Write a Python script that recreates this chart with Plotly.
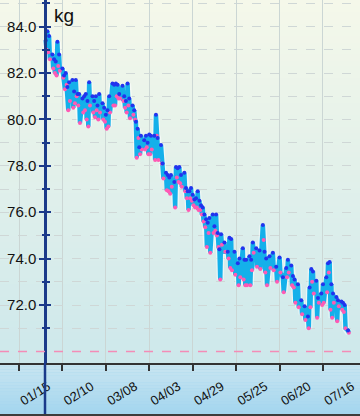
import pandas as pd
import plotly.graph_objects as go

# ---------------- data ----------------
start_date = "2023-01-31"
day = [0,1,2,4,5,6,7,8,10,11,12,13,14,16,17,18,19,20,22,23,24,25,26,28,29,30,31,32,34,
       35,36,37,38,40,41,42,43,44,46,47,48,49,50,52,53,54,55,56,57,59,60,61,62,63,65,66,
       67,69,70,72,73,74,75,77,78,79,80,81,83,84,85,86,87,88,89,90,91,92,93,94,95,96,97,
       98,100,101,102,103,104,105,107,109,110,111,113,115,116,118,119,120,122,123,124,126,128,130,131,
       132,134,136,138,140,142,144,145,147,148,149,151,153,155,157,
       158,159,160,162,163,165,166,168,169,170,171,172,174,175,177,178,179,181]
upper = [83.4,83.8,83.6,82.8,82.6,82.5,83.35,82.8,82.2,81.9,82.0,81.4,81.6,81.7,81.2,81.7,81.1,81.1,80.9,81.0,81.1,80.8,81.6,81.0,80.8,81.0,80.6,81.1,80.7,
         80.5,80.2,80.4,81.0,81.55,81.5,81.55,81.5,81.1,81.45,81.0,80.8,81.55,80.9,80.6,80.4,79.9,79.6,78.8,79.3,79.1,79.3,79.0,79.35,79.3,79.3,80.2,
         79.2,78.9,78.1,77.7,77.6,77.5,77.6,77.3,77.95,77.9,77.95,77.6,77.7,77.05,76.9,76.9,77.05,76.75,76.55,76.6,76.9,76.5,76.3,76.2,75.9,75.7,75.55,
         75.75,75.9,75.4,75.9,75.1,74.4,75.05,74.7,74.3,74.9,74.85,74.3,73.8,74.0,74.45,73.95,73.95,74.1,73.95,74.7,74.45,74.35,75.45,74.3,
         74.0,74.1,74.25,73.65,74.05,73.2,73.6,73.95,73.7,73.25,73.1,72.9,72.2,71.95,71.5,
         72.75,73.55,73.45,73.05,72.3,72.5,72.9,73.2,73.8,73.85,72.9,72.5,72.35,72.2,72.15,72.1,72.0,70.9]
lower = [83.0,82.9,82.6,82.2,82.0,81.9,82.3,82.1,81.8,81.3,81.5,80.4,80.8,80.5,80.7,81.0,80.6,79.85,80.3,80.4,80.0,79.7,80.6,80.3,80.1,80.4,80.0,80.3,80.0,
         79.9,79.6,79.7,80.3,80.6,80.6,81.0,80.9,80.9,80.8,80.5,80.3,80.6,80.05,80.2,80.0,78.35,79.2,78.5,78.7,78.7,78.8,78.5,78.5,78.7,78.25,79.3,
         78.25,78.1,77.45,76.95,76.9,76.8,77.1,76.2,77.5,77.3,77.25,77.1,76.9,76.6,76.1,76.6,76.5,76.3,76.2,76.2,76.1,76.1,75.9,75.6,75.35,74.5,75.1,
         74.25,75.1,75.2,75.0,74.5,73.1,74.6,74.3,74.0,73.6,73.5,73.3,72.85,73.2,73.1,72.85,72.85,72.85,73.5,74.25,73.65,73.55,74.8,73.4,
         72.85,73.6,73.5,73.0,73.4,72.55,73.2,73.4,72.85,72.75,72.1,71.9,71.6,71.35,71.0,
         71.9,73.0,72.5,71.45,72.1,72.0,72.1,72.55,73.4,71.8,71.45,72.1,71.3,71.95,71.8,71.7,71.0,70.8]
target_kg = 70.0
y_major = [72, 74, 76, 78, 80, 82, 84]
y_minor = [71, 73, 75, 77, 79, 81, 83, 85]
x_tick_start = "2022-12-20"
x_tick_days = 26
x_range = ["2023-01-03 15:00", "2023-08-07 04:00"]
y_range = [69.5, 85.15]
unit_label = "kg"

# ---------------- build ----------------
t_up = pd.Timestamp(start_date) + pd.to_timedelta(day, unit="D")
t_lo = t_up + pd.Timedelta(hours=12)
xs, ys = [], []
for a, b, c, d in zip(t_up, upper, t_lo, lower):
    xs += [a, c]
    ys += [b, d]

AXIS_BLUE = "#1b3a8a"
FONT = "Liberation Sans, Arial, sans-serif"

fig = go.Figure()
fig.add_trace(go.Scatter(x=xs, y=ys, mode="lines", line=dict(color="rgba(255,255,255,0.55)", width=7),
                         hoverinfo="skip", showlegend=False))
fig.add_trace(go.Scatter(x=xs, y=ys, mode="lines", line=dict(color="#14b0ea", width=4.5),
                         showlegend=False))
fig.add_trace(go.Scatter(x=t_lo, y=lower, mode="markers", yaxis="y2",
                         marker=dict(color="#ff5ab4", size=4), showlegend=False))
fig.add_trace(go.Scatter(x=t_up, y=upper, mode="markers", yaxis="y2",
                         marker=dict(color="#2233ee", size=4), showlegend=False))

def lerp(c1, c2, f):
    return "rgb(%d,%d,%d)" % tuple(round(c1[i] + (c2[i] - c1[i]) * f) for i in range(3))

shapes = []
N = 60
top_c, bot_c = (245, 248, 234), (205, 232, 235)
for i in range(N):
    shapes.append(dict(type="rect", xref="paper", yref="paper", x0=0, x1=1,
                       y0=i / N, y1=(i + 1) / N + 0.002, layer="below", line=dict(width=0),
                       fillcolor=lerp(bot_c, top_c, (i + 0.5) / N)))
plot_h = 363.0
strip_bot = -51 / plot_h
M = 16
s_top, s_bot = (202, 230, 240), (163, 213, 239)
for i in range(M):
    y0 = strip_bot * (i / M)
    y1 = strip_bot * ((i + 1) / M)
    shapes.append(dict(type="rect", xref="paper", yref="paper", x0=0, x1=1,
                       y0=y1, y1=y0, layer="below", line=dict(width=0),
                       fillcolor=lerp(s_top, s_bot, (i + 0.5) / M)))
shapes.append(dict(type="rect", xref="paper", yref="paper", x0=0, x1=1,
                   y0=-53 / plot_h, y1=strip_bot, layer="above", line=dict(width=0),
                   fillcolor="#3c3c3c"))
shapes.append(dict(type="line", xref="paper", yref="y", x0=0, x1=1, y0=target_kg, y1=target_kg,
                   line=dict(color="#f48cb6", width=1.5, dash="dash"), layer="above"))
shapes.append(dict(type="line", xref="paper", yref="paper", x0=0.125, x1=0.125,
                   y0=strip_bot, y1=0, line=dict(color=AXIS_BLUE, width=2.5), layer="above"))

yax_common = dict(range=y_range, anchor="free", position=0.125, automargin=False,
                  tickvals=y_major, ticks="outside", ticklen=5, tickwidth=2, tickcolor=AXIS_BLUE,
                  zeroline=False)

fig.update_layout(
    width=360, height=416,
    margin=dict(l=0, r=0, t=0, b=53, pad=0),
    paper_bgcolor="#a3d5ef",
    plot_bgcolor="rgba(0,0,0,0)",
    font=dict(family=FONT, color="#111111"),
    xaxis=dict(type="date", range=x_range, tick0=x_tick_start, dtick=x_tick_days * 86400000,
               tickformat="%m/%d", tickangle=-32, ticklabelshift=29, ticklabelstandoff=3,
               tickfont=dict(size=13, color="#111111", family=FONT),
               ticks="outside", ticklen=6, tickwidth=1.5, tickcolor="#333333",
               showgrid=True, gridcolor="#cbd6d4", gridwidth=1,
               showline=True, linecolor="#333333", linewidth=2, zeroline=False, automargin=False),
    yaxis=dict(**yax_common, side="left", tickformat=".1f",
               tickfont=dict(size=15, color="#111111", family=FONT),
               showline=True, linecolor=AXIS_BLUE, linewidth=2.5,
               showgrid=True, gridcolor="#cfd7d6", gridwidth=1, griddash="dash",
               minor=dict(tickvals=y_minor, ticks="outside", ticklen=2.5, tickwidth=1.5,
                          tickcolor=AXIS_BLUE, showgrid=True, gridcolor="#cfd7d6",
                          griddash="dash", gridwidth=1)),
    yaxis2=dict(**yax_common, side="right", overlaying="y", showticklabels=False,
                showline=False, showgrid=False,
                minor=dict(tickvals=y_minor, ticks="outside", ticklen=3.5, tickwidth=1.5,
                           tickcolor=AXIS_BLUE, showgrid=False)),
    shapes=shapes,
    annotations=[dict(text=unit_label, xref="paper", yref="paper", x=0.125, y=1,
                      xshift=7, yshift=-3, xanchor="left", yanchor="top", showarrow=False,
                      font=dict(size=19, color="#111111", family=FONT))],
)

fig.write_html("out.html")
